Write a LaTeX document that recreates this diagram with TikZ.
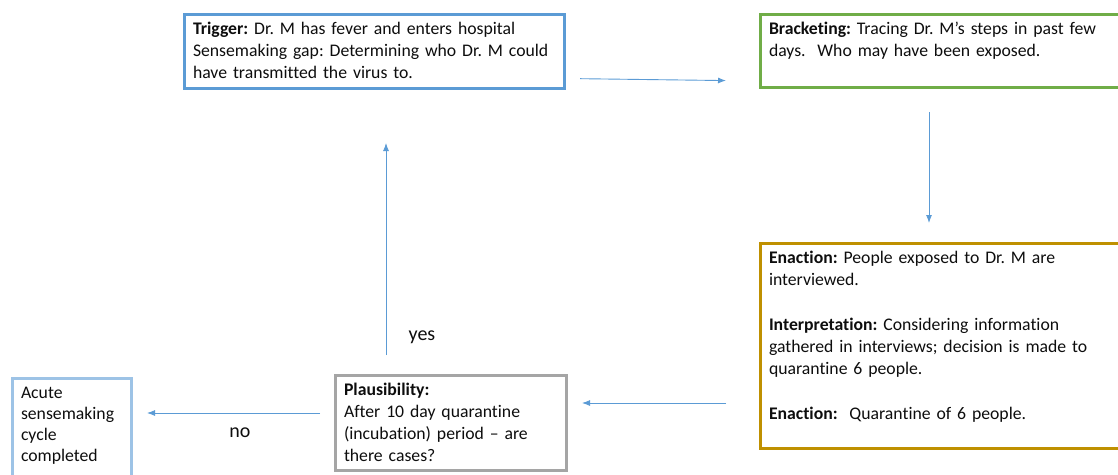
\documentclass[tikz,border=0pt]{standalone}
\usepackage{fontspec}
\setmainfont{Carlito}[Ligatures=NoCommon]
\usetikzlibrary{arrows.meta}
\frenchspacing

\definecolor{trigblue}{HTML}{5B9BD5}
\definecolor{brackgreen}{HTML}{70AD47}
\definecolor{enactgold}{HTML}{BF9000}
\definecolor{plausgray}{HTML}{A5A5A5}
\definecolor{doneblue}{HTML}{9DC3E6}

\tikzset{
  box/.style={draw, line width=3pt, anchor=north west, align=left, inner xsep=8.5pt, inner ysep=0pt,
    text height=20pt, text=black!95, font=\fontsize{17.7pt}{22pt}\selectfont},
  link/.style={draw=trigblue, line width=0.9pt, -{Latex[length=8pt,width=6pt]}},
  tag/.style={text=black!95, font=\fontsize{20pt}{24pt}\selectfont}
}

\begin{document}
\begin{tikzpicture}[x=1pt,y=-1pt]
\useasboundingbox (0,0) rectangle (1118,474);
\clip (0,0) rectangle (1118,474);
\node[box, draw=trigblue, text width=363pt, text depth=54pt] (trigger) at (183,13)
  {\textbf{Trigger:} Dr. M has fever and enters hospital\\ Sensemaking gap: Determining who Dr. M could\\ have transmitted the virus to.};
\node[box, draw=brackgreen, text width=346pt, text depth=53pt] (bracket) at (759,13)
  {\textbf{Bracketing:} Tracing Dr. M’s steps in past few\\ days.\ \ Who may have been exposed.};
\node[box, draw=enactgold, text width=346pt, text depth=185pt] (enact) at (759,242)
  {\textbf{Enaction:} People exposed to Dr. M are\\ interviewed.\\[23pt]
   \textbf{Interpretation:} Considering information\\ gathered in interviews; decision is made to\\ quarantine 6 people.\\[23pt]
   \textbf{Enaction:}\ \ Quarantine of 6 people.};
\node[box, draw=plausgray, text width=214pt, text depth=75pt] (plaus) at (334,374)
  {\textbf{Plausibility:}\\ After 10 day quarantine\\ (incubation) period -- are\\ there cases?};
\node[box, draw=doneblue, text width=102pt, text depth=110pt, font=\fontsize{17.7pt}{21pt}\selectfont] (done) at (11,377)
  {Acute\\ sensemaking\\ cycle\\ completed};

\draw[link, shorten <=14pt, shorten >=33pt] ([yshift=-27pt]trigger.east) -- ([yshift=-30pt]bracket.west);
\draw[link, shorten <=23pt, shorten >=19pt] ([xshift=-13pt]bracket.south) -- ([xshift=-13pt]enact.north);
\draw[link, shorten <=33pt, shorten >=14pt] ([yshift=-57pt]enact.west) -- ([yshift=20pt]plaus.east);
\draw[link, shorten <=19pt, shorten >=53pt] ([xshift=-65pt]plaus.north) -- ([xshift=11.5pt]trigger.south);
\draw[link, shorten <=14pt, shorten >=14pt] ([yshift=10pt]plaus.west) -- ([yshift=30.5pt]done.east);

\node[tag] (yes) at (422,337) {yes};
\node[tag] (no) at (240,433) {no};
\end{tikzpicture}
\end{document}
